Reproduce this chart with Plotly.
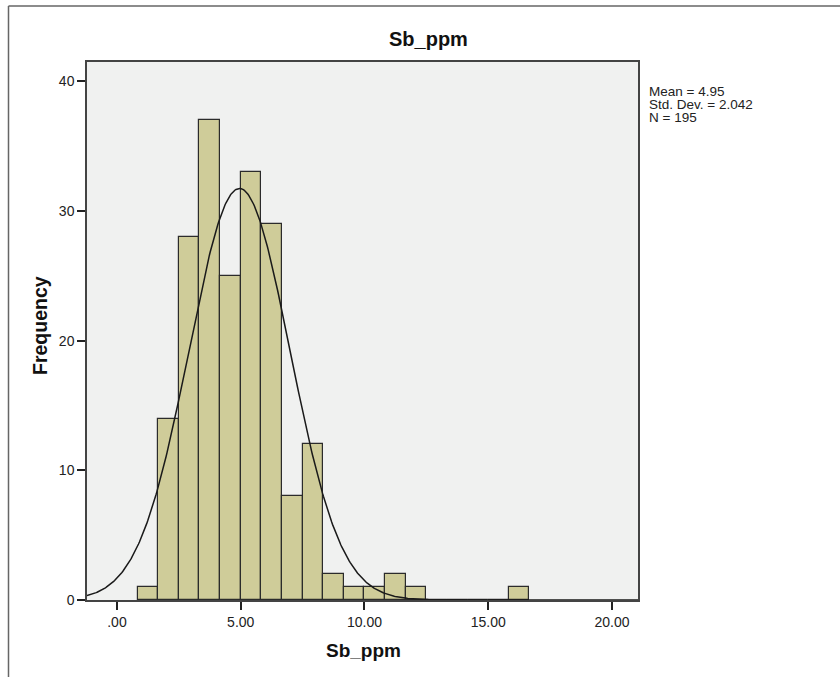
import numpy as np
import plotly.graph_objects as go

# ---- data ----
bin_width = 0.8333
bin_index = list(range(1, 20))  # bin k spans [k*w, (k+1)*w]
counts = [1, 14, 28, 37, 25, 33, 29, 8, 12, 2, 1, 1, 2, 1, 0, 0, 0, 0, 1]
mean_val = 4.95
std_val = 2.042
n_val = 195
x_tick_vals = [0, 5, 10, 15, 20]
x_tick_text = [".00", "5.00", "10.00", "15.00", "20.00"]
y_tick_vals = [0, 10, 20, 30, 40]
y_tick_text = ["0", "10", "20", "30", "40"]
stats_lines = ["Mean = 4.95", "Std. Dev. = 2.042", "N = 195"]

x_range = [-1.21, 21.05]
y_range = [0, 41.5]

centers = [(k + 0.5) * bin_width for k in bin_index]

FONT = "Liberation Sans, Arial, sans-serif"
PW, PH = 551, 538  # plot area size in px (left 87, top 62)


def px(xp):
    return (xp - 87) / PW


def py(yp):
    return (600 - yp) / PH


fig = go.Figure()
fig.add_trace(go.Bar(
    x=centers, y=counts, width=[bin_width] * len(centers),
    marker=dict(color="#CFCC99", line=dict(color="#2b2b2b", width=1.2)),
    showlegend=False, hoverinfo="skip",
))

xs = np.linspace(x_range[0], x_range[1], 600)
scale = n_val * bin_width
ys = scale * np.exp(-0.5 * ((xs - mean_val) / std_val) ** 2) / (std_val * np.sqrt(2 * np.pi))
fig.add_trace(go.Scatter(x=xs, y=ys, mode="lines",
                         line=dict(color="#1a1a1a", width=1.5),
                         showlegend=False, hoverinfo="skip"))

axis_common = dict(ticks="outside", ticklen=8, tickwidth=1.5, tickcolor="#222",
                   showline=True, mirror=True, linecolor="#444", linewidth=1.5,
                   showgrid=False, zeroline=False,
                   tickfont=dict(size=14, color="#222", family=FONT))

fig.update_layout(
    width=840, height=677,
    margin=dict(l=87, r=202, t=62, b=77),
    paper_bgcolor="white", plot_bgcolor="#F0F1F0",
    font=dict(family=FONT, size=14, color="#222"),
    bargap=0,
    xaxis=dict(range=x_range, tickvals=x_tick_vals, ticktext=x_tick_text, **axis_common),
    yaxis=dict(range=y_range, tickvals=y_tick_vals, ticktext=y_tick_text, **axis_common),
)

# titles
fig.add_annotation(text="<b>Sb_ppm</b>", xref="paper", yref="paper",
                   x=px(428), y=py(39), xanchor="center", yanchor="middle",
                   showarrow=False, font=dict(size=20, color="#111", family=FONT))
fig.add_annotation(text="<b>Sb_ppm</b>", xref="paper", yref="paper",
                   x=px(363), y=py(650), xanchor="center", yanchor="middle",
                   showarrow=False, font=dict(size=19, color="#111", family=FONT))
fig.add_annotation(text="<b>Frequency</b>", xref="paper", yref="paper",
                   x=px(40), y=py(326), xanchor="center", yanchor="middle",
                   textangle=-90, showarrow=False, font=dict(size=19.5, color="#111", family=FONT))

# stats text
for i, line in enumerate(stats_lines):
    fig.add_annotation(text=line, xref="paper", yref="paper",
                       x=px(647), y=py(91 + 13 * i),
                       xanchor="left", yanchor="middle", showarrow=False,
                       font=dict(size=13.5, color="#222", family=FONT))

# outer figure border (left and top visible)
fig.add_shape(type="line", xref="paper", yref="paper",
              x0=px(8.5), x1=px(8.5), y0=-0.2, y1=py(6),
              line=dict(color="#666", width=1.5))
fig.add_shape(type="line", xref="paper", yref="paper",
              x0=px(8.5), x1=1.5, y0=py(6), y1=py(6),
              line=dict(color="#666", width=1.5))

fig.write_html("out.html")
